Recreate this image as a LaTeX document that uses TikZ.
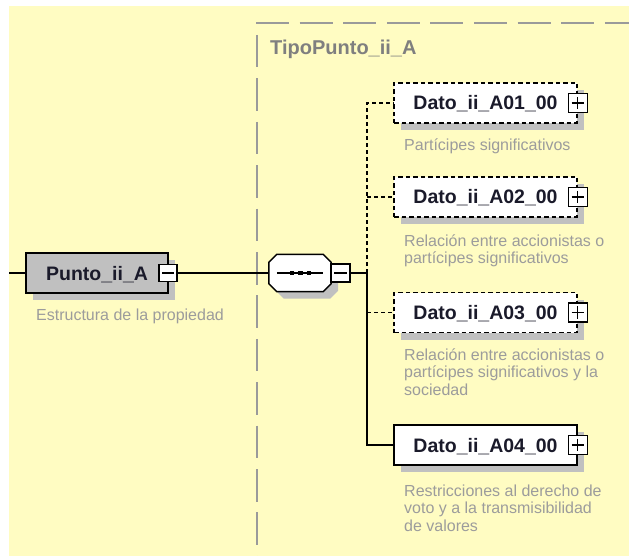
\documentclass[tikz,border=0pt]{standalone}
\usepackage{fontspec}
\setmainfont{Liberation Sans}
\usetikzlibrary{shadows}
\definecolor{bgyellow}{HTML}{FFFCC2}
\definecolor{shgray}{HTML}{C0C0C0}
\definecolor{descgray}{HTML}{9C9C9C}
\definecolor{framegray}{HTML}{9A9A9A}
\definecolor{labelgray}{HTML}{7F7F7F}
\definecolor{inkblack}{HTML}{1A1A2A}
\begin{document}
\begin{tikzpicture}[x=1pt,y=-1pt,
  ln/.style={line width=1.5pt, draw=black},
  optln/.style={ln, dash pattern=on 4pt off 3pt},
  sh/.style={drop shadow={shadow xshift=7pt,shadow yshift=-7pt,fill=shgray,opacity=1}},
  namefont/.style={font=\fontsize{19.5}{22}\selectfont\bfseries, text=inkblack},
  descnode/.style={font=\fontsize{16}{17.5}\selectfont, text=descgray, align=left, inner sep=0pt, anchor=north west},
  elembox/.style={draw=black, line width=1.6pt, fill=white, minimum height=40pt, inner sep=0pt, text height=14pt, text depth=0pt, namefont, sh},
  optbox/.style={dash pattern=on 4.5pt off 3pt},
  togglebox/.style={draw=black, line width=1.3pt, fill=white, minimum width=19pt, minimum height=19pt, inner sep=0pt},
  dotnode/.style={fill=black, minimum size=4.5pt, inner sep=0pt},
]
\fill[white] (0,0) rectangle (629,556);
\fill[bgyellow] (9,6) rectangle (629,556);
\useasboundingbox (0,0) rectangle (629,556);

% container of the type
\draw[framegray, line width=2pt, dash pattern=on 33pt off 10.6pt] (256,23) -- (629,23);
\draw[framegray, line width=2pt, dash pattern=on 32.5pt off 10.9pt] (257,35) -- (257,556);
\node[font=\fontsize{20}{22}\selectfont\bfseries, text=labelgray, anchor=base west, inner sep=0pt] (tipo) at (270,55) {TipoPunto\_ii\_A};

% root element
\node[elembox, fill=shgray, minimum width=142pt] (punto) at (97,273) {Punto\_ii\_A};
\node[togglebox, minimum width=18pt, minimum height=17pt] (puntom) at (168,273) {};
\draw[line width=1.3pt] ([xshift=4pt]puntom.west) -- ([xshift=-4pt]puntom.east);
\node[descnode] (puntod) at (36,308) {\rule{0pt}{12pt}Estructura de la propiedad};

% sequence compositor (octagon drawn round a named node)
\node[minimum width=62pt, minimum height=37pt, inner sep=0pt] (seq) at (300,273) {};
\fill[shgray] ([xshift=15pt,yshift=-7pt]seq.north west) -- ([xshift=-1pt,yshift=-7pt]seq.north east)
  -- ([xshift=7pt,yshift=-15pt]seq.north east) -- ([xshift=7pt,yshift=1pt]seq.south east)
  -- ([xshift=-1pt,yshift=-7pt]seq.south east) -- ([xshift=15pt,yshift=-7pt]seq.south west)
  -- ([xshift=7pt,yshift=1pt]seq.south west) -- ([xshift=7pt,yshift=-15pt]seq.north west) -- cycle;
\filldraw[fill=white, draw=black, line width=1.5pt] ([xshift=8pt]seq.north west) -- ([xshift=-8pt]seq.north east)
  -- ([yshift=-8pt]seq.north east) -- ([yshift=8pt]seq.south east)
  -- ([xshift=-8pt]seq.south east) -- ([xshift=8pt]seq.south west)
  -- ([yshift=8pt]seq.south west) -- ([yshift=-8pt]seq.north west) -- cycle;
\draw[line width=1.5pt] ([xshift=8pt]seq.west) -- ([xshift=-8pt]seq.east);
\node[dotnode] (dt1) at (292,273) {};
\node[dotnode] (dt2) at (300.5,273) {};
\node[dotnode] (dt3) at (309,273) {};
\node[togglebox, minimum width=19pt, minimum height=18pt] (seqm) at (340.5,273) {};
\draw[line width=1.3pt] ([xshift=4pt]seqm.west) -- ([xshift=-4pt]seqm.east);

% children
\node[elembox, optbox, minimum width=183pt] (a1) at (485.5,103) {Dato\_ii\_A01\_00};
\node[elembox, optbox, minimum width=183pt] (a2) at (485.5,197) {Dato\_ii\_A02\_00};
\node[elembox, optbox, minimum width=183pt] (a3) at (485.5,312.5) {Dato\_ii\_A03\_00};
\node[elembox, minimum width=183pt] (a4) at (485.5,445) {Dato\_ii\_A04\_00};
\foreach \n in {a1,a2,a3,a4}{
  \node[togglebox] (\n p) at (\n.east) {};
  \draw[line width=1.3pt] ([xshift=4pt]\n p.west) -- ([xshift=-4pt]\n p.east);
  \draw[line width=1.3pt] ([yshift=-4pt]\n p.north) -- ([yshift=4pt]\n p.south);
}
\node[descnode] (d1) at (404,138) {\rule{0pt}{12pt}Partícipes significativos};
\node[descnode] (d2) at (404,234) {\rule{0pt}{12pt}Relación entre accionistas o\\partícipes significativos};
\node[descnode] (d3) at (404,348) {\rule{0pt}{12pt}Relación entre accionistas o\\partícipes significativos y la\\sociedad};
\node[descnode] (d4) at (404,484) {\rule{0pt}{12pt}Restricciones al derecho de\\voto y a la transmisibilidad\\de valores};

% connectors
\coordinate (inleft) at (9,273);
\coordinate (bus) at (367,273);
\draw[ln] (inleft) -- (punto.west);
\draw[ln] (puntom.east) -- (seq.west);
\draw[ln] (seqm.east) -- (bus);
\draw[optln] (bus) -- (bus |- a1) -- (a1.west);
\draw[optln] (bus |- a2) -- (a2.west);
\draw[ln] (bus) -- (bus |- a4) -- (a4.west);
\draw[optln] (bus |- a3) -- (a3.west);
\end{tikzpicture}
\end{document}
